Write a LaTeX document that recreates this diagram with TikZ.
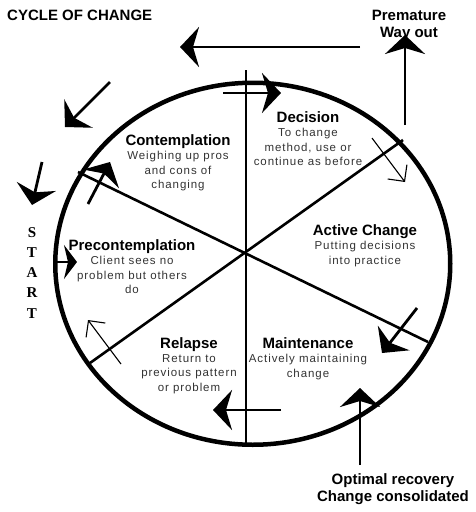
\documentclass[tikz,border=0pt]{standalone}
\usepackage{fontspec}
\setmainfont{Liberation Sans}
\newfontfamily\descfont[LetterSpace=8]{Liberation Sans}
\newfontfamily\startfont{Liberation Serif}
\usetikzlibrary{arrows.meta,positioning}

\tikzset{
  rim/.style={line width=4.5pt},
  spoke/.style={line width=2.6pt},
  bigarrow/.style={line width=2.8pt, -{Stealth[length=19pt,width=40pt,inset=6pt]}},
  thinarrow/.style={line width=1.1pt, -{Straight Barb[length=12pt,width=24pt]}},
  stagetitle/.style={font=\fontsize{15}{18}\selectfont\bfseries, inner sep=0pt, anchor=base},
  stagetext/.style={font=\descfont\fontsize{11.5}{14.5}\selectfont, text=black!80, align=center, inner sep=0pt},
  bigtext/.style={font=\fontsize{15}{17}\selectfont\bfseries, align=center, inner sep=0pt, anchor=base}
}

\begin{document}
\begin{tikzpicture}[x=1pt, y=-1pt]
	\useasboundingbox (0,0) rectangle (475,512);
	% the wheel
	\draw[rim] (252.75,263.75) ellipse [x radius=197.5pt, y radius=181pt];
	\coordinate (hub) at (247,253);
	\coordinate (spokeN) at (246,70);
	\coordinate (spokeS) at (246,446);
	\coordinate (spokeNW) at (78,172);
	\coordinate (spokeSE) at (428,342);
	\coordinate (spokeSW) at (90,363);
	\coordinate (spokeNE) at (403,140);
	\draw[spoke] (spokeN) -- (spokeS);
	\draw[spoke] (spokeNW) -- (spokeSE);
	\draw[spoke] (spokeSW) -- (spokeNE);

	% stages
	\node[stagetitle] (contemplation) at (178,145) {Contemplation};
	\node[stagetext, below=6pt of contemplation.base] (contemplationtext) {Weighing up pros\\and cons of\\changing};
	\node[stagetitle] (decision) at (308,122) {Decision};
	\node[stagetext, below=6pt of decision.base] (decisiontext) {To change\\method, use or\\continue as before};
	\node[stagetitle] (activechange) at (365,235) {Active Change};
	\node[stagetext, below=6pt of activechange.base] (activechangetext) {Putting decisions\\into practice};
	\node[stagetitle] (precontemplation) at (132,250) {Precontemplation};
	\node[stagetext, below=6pt of precontemplation.base] (precontemplationtext) {Client sees no\\problem but others\\do};
	\node[stagetitle] (maintenance) at (308,348) {Maintenance};
	\node[stagetext, below=6pt of maintenance.base] (maintenancetext) {Actively maintaining\\change};
	\node[stagetitle] (relapse) at (189,348) {Relapse};
	\node[stagetext, below=6pt of relapse.base] (relapsetext) {Return to\\previous pattern\\or problem};

	% arrows round the rim
	\coordinate (decisionA) at (223,93);
	\coordinate (decisionB) at (281,93);
	\coordinate (activeA) at (372,138);
	\coordinate (activeB) at (405,182);
	\coordinate (maintA) at (417,308);
	\coordinate (maintB) at (382,353);
	\coordinate (relapseA) at (281,410);
	\coordinate (relapseB) at (213,410);
	\coordinate (precontA) at (121,364);
	\coordinate (precontB) at (88,320);
	\coordinate (contA) at (88,204);
	\coordinate (contB) at (110,162);
	\draw[bigarrow] (decisionA) -- (decisionB);
	\draw[thinarrow] (activeA) -- (activeB);
	\draw[bigarrow] (maintA) -- (maintB);
	\draw[bigarrow] (relapseA) -- (relapseB);
	\draw[thinarrow] (precontA) -- (precontB);
	\draw[bigarrow] (contA) -- (contB);

	% outside
	\node[font=\fontsize{15}{18}\selectfont\bfseries, anchor=base west, inner sep=0pt] (title) at (7,20.5) {CYCLE OF CHANGE};
	\node[bigtext] (premature) at (409,37) {Premature\\Way out};
	\node[bigtext] (optimal) at (393,501) {Optimal recovery\\Change consolidated};
	\node[font=\startfont\bfseries\fontsize{15}{20.25}\selectfont, align=center, inner sep=0pt, anchor=base] (start) at (32,318) {S\\T\\A\\R\\T};
	\coordinate (exitA) at (405,125);
	\coordinate (exitB) at (405,35);
	\coordinate (recoverA) at (360,465);
	\coordinate (recoverB) at (360,388);
	\coordinate (backA) at (360,47);
	\coordinate (backB) at (180,47);
	\coordinate (downA) at (110,82);
	\coordinate (downB) at (65,127);
	\coordinate (leftA) at (42,162);
	\coordinate (leftB) at (32,205);
	\coordinate (entryA) at (55,262);
	\coordinate (entryB) at (77,262);
	\draw[bigarrow] (exitA) -- (exitB);
	\draw[bigarrow] (recoverA) -- (recoverB);
	\draw[bigarrow] (backA) -- (backB);
	\draw[bigarrow] (downA) -- (downB);
	\draw[bigarrow] (leftA) -- (leftB);
	\draw[line width=2.8pt, -{Stealth[length=13pt,width=34pt,inset=4pt]}] (entryA) -- (entryB);
\end{tikzpicture}
\end{document}
